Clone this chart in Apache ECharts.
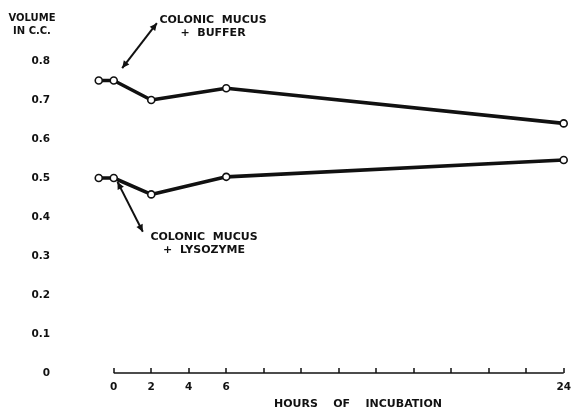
<!DOCTYPE html>
<html><head><meta charset="utf-8">
<script src="https://cdn.jsdelivr.net/npm/echarts@6/dist/echarts.min.js"></script>
<style>html,body{margin:0;padding:0;background:#fff}#c{width:574px;height:409px}</style>
</head><body><div id="c"></div>
<script>
const hours = [-0.8, 0, 2, 6, 24];
const bufferVals = [0.75, 0.75, 0.70, 0.73, 0.64];
const lysozymeVals = [0.50, 0.50, 0.458, 0.503, 0.546];
const xTickValues = [0, 2, 4, 6, 8, 10, 12, 14, 16, 18, 20, 22, 24];
const xTickLabels = [0, 2, 4, 6, 24];
const yTicks = [0, 0.1, 0.2, 0.3, 0.4, 0.5, 0.6, 0.7, 0.8];

const FONT = 'DejaVu Sans';
const chart = echarts.init(document.getElementById('c'));
const lineStyle = {color: '#111', width: 3.6};
const itemStyle = {color: '#fff', borderColor: '#111', borderWidth: 1.6};
chart.setOption({
  animation: false,
  backgroundColor: '#fff',
  grid: {left: 95, right: 9, top: 61, bottom: 36},
  xAxis: {
    type: 'value', min: -1, max: 24,
    axisLine: {show: false},
    axisTick: {show: true, inside: true, length: 5, customValues: xTickValues, lineStyle: {color: '#111', width: 1.5}},
    splitLine: {show: false},
    axisLabel: {
      margin: 9, color: '#111', fontFamily: FONT, fontWeight: 'bold', fontSize: 10.5,
      customValues: xTickLabels,
      formatter: v => String(v)
    }
  },
  yAxis: {
    type: 'value', min: 0, max: 0.8, interval: 0.1,
    axisLine: {show: false}, axisTick: {show: false}, splitLine: {show: false},
    axisLabel: {
      margin: 45, color: '#111', fontFamily: FONT, fontWeight: 'bold', fontSize: 10.5,
      formatter: v => v === 0 ? '0' : v.toFixed(1)
    }
  },
  series: [
    {type: 'line', data: hours.map((h, i) => [h, bufferVals[i]]),
     symbol: 'circle', symbolSize: 7, lineStyle, itemStyle, z: 3,
     markLine: {silent: true, symbol: 'none', label: {show: false},
       lineStyle: {color: '#111', width: 1.5, type: 'solid'},
       data: [[{coord: [xTickValues[0], 0]}, {coord: [xTickValues[xTickValues.length - 1], 0]}]]}},
    {type: 'line', data: hours.map((h, i) => [h, lysozymeVals[i]]),
     symbol: 'circle', symbolSize: 7, lineStyle, itemStyle, z: 3}
  ]
});

function px(x, y) { return chart.convertToPixel({gridIndex: 0}, [x, y]); }
function arrow(a, b) {
  const els = [];
  els.push({type: 'line', shape: {x1: a[0], y1: a[1], x2: b[0], y2: b[1]}, style: {stroke: '#111', lineWidth: 2}});
  [[a, b], [b, a]].forEach(([p, q]) => {
    const ang = Math.atan2(p[1] - q[1], p[0] - q[0]);
    const L = 8, W = 0.45;
    els.push({type: 'polygon', shape: {points: [
      p,
      [p[0] - L * Math.cos(ang - W), p[1] - L * Math.sin(ang - W)],
      [p[0] - L * Math.cos(ang + W), p[1] - L * Math.sin(ang + W)]
    ]}, style: {fill: '#111'}});
  });
  return els;
}
const txt = (x, y, t, size) => ({type: 'text', x, y, style: {text: t, fill: '#111', font: 'bold ' + (size || 10) + 'px "' + FONT + '"', align: 'center', verticalAlign: 'middle', lineHeight: 13}});

const g = [];
g.push(...arrow(px(0.45, 0.782), px(2.3, 0.897)));
g.push(...arrow(px(0.2, 0.49), px(1.55, 0.362)));
g.push(txt(32, 25, 'VOLUME\nIN C.C.', 10));
g.push(txt(213, 27, 'COLONIC  MUCUS\n+  BUFFER', 11));
g.push(txt(204, 244, 'COLONIC  MUCUS\n+  LYSOZYME', 11));
g.push(txt(358, 404, 'HOURS    OF    INCUBATION', 11));
chart.setOption({graphic: g});
</script></body></html>
